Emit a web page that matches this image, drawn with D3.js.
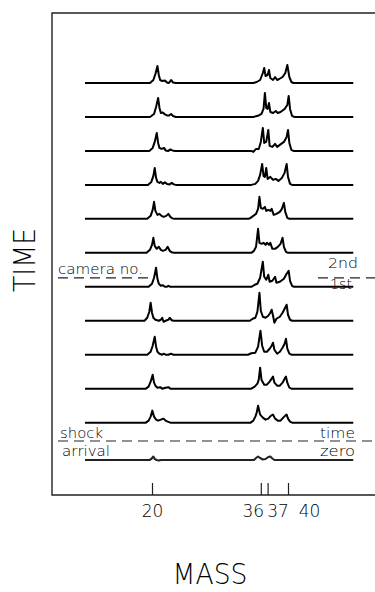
<!DOCTYPE html>
<html>
<head>
<meta charset="utf-8">
<script src="https://cdn.jsdelivr.net/npm/d3@7"></script>
<style>
  body { margin: 0; background: #fff; }
  svg { display: block; }
  text { font-family: "DejaVu Sans", "Liberation Sans", sans-serif; font-weight: 200; fill: #000; }
</style>
</head>
<body>
<div id="chart"></div>
<script>
// frame times (arb. units), index 0 = bottom trace (shock arrival)
var frameTimes = [0, 1.1, 2.1, 3.1, 4.1, 5.1, 6.1, 7.1, 8.1, 9.1, 10.1, 11.1];
var massRange = [10.15, 49.6];
var massTicks = [20, 36, 37, 40];
var shockTime = 0.56;   // shock arrival / time zero
var cameraTime = 5.36;  // switch from 1st to 2nd camera

// [mass, signal] vertices, bottom frame first
var neonTraces = [
  [[19.6,0],[19.9,1],[20.2,3.5],[20.4,1],[20.7,0],[21.0,-0.5],[21.3,0]],
  [[19.1,0],[19.5,2],[19.8,6],[20.05,12],[20.3,6],[20.6,3],[20.9,2],[21.3,3],[21.7,4],[22.0,2],[22.3,1],[22.7,0]],
  [[19.1,0],[19.5,2],[19.8,7],[20.1,14],[20.3,6],[20.5,3],[20.8,1],[21.2,1.5],[21.5,0],[22.0,1],[22.4,1.5],[22.7,0]],
  [[19.3,0],[19.8,3],[20.1,9],[20.4,18],[20.6,8],[20.8,3],[21.1,1],[21.5,0],[21.7,1],[22.0,0],[22.4,0],[22.8,1],[23.1,0]],
  [[18.9,0],[19.3,3],[19.6,9],[19.8,18],[20.0,8],[20.2,3],[20.5,1],[21.0,0],[21.3,1],[21.5,3],[21.7,-1],[22.0,0],[22.4,1],[22.6,3],[22.9,0.5],[23.2,0]],
  [[19.5,0],[20.0,3],[20.3,9],[20.6,19],[20.8,8],[21.0,3],[21.3,1],[21.6,1.5],[21.9,0],[22.2,0],[22.4,1],[22.7,0]],
  [[19.2,0],[19.7,3],[20.0,8],[20.2,15],[20.4,7],[20.7,4],[21.0,6],[21.3,3],[21.6,2],[22.0,3],[22.3,6],[22.6,2],[22.9,0.5],[23.2,0]],
  [[19.3,0],[19.8,3],[20.1,9],[20.3,17],[20.5,8],[20.8,4],[21.1,5],[21.4,3],[21.7,2],[22.1,3],[22.4,5],[22.7,2],[23.0,0.5],[23.3,0]],
  [[19.4,0],[19.9,3],[20.2,9],[20.4,17],[20.6,7],[20.8,3],[21.1,2],[21.3,3],[21.6,1],[21.9,2.5],[22.2,1],[22.6,0.5],[22.9,2],[23.2,0.5],[23.5,0]],
  [[19.6,0],[20.1,3],[20.4,9],[20.7,18],[20.9,8],[21.1,3],[21.4,2],[21.8,3],[22.0,0.5],[22.4,0],[22.7,1.5],[23.0,0.5],[23.4,0]],
  [[19.7,0],[20.3,3],[20.6,10],[20.9,19],[21.1,9],[21.3,4],[21.6,4.5],[21.9,2.5],[22.2,1.5],[22.5,1.5],[22.8,3],[23.1,1],[23.5,0]],
  [[19.7,0],[20.2,3],[20.5,9],[20.8,17],[21.0,8],[21.2,3],[21.5,2],[21.9,2.5],[22.2,0.5],[22.5,0],[22.8,3],[23.1,0.5],[23.5,0]]
];

var argonTraces = [
  [[35.0,0],[35.3,2],[35.6,3.5],[35.9,2],[36.3,0.5],[36.7,1],[37.1,3],[37.4,3.5],[37.7,1.5],[38.0,0]],
  [[34.5,0],[34.9,2],[35.2,6],[35.4,10],[35.6,17],[35.9,8],[36.3,5],[36.7,3],[37.1,4],[37.5,7],[37.8,8],[38.1,4],[38.5,2],[38.9,2],[39.3,5],[39.6,7],[39.8,8],[40.0,4],[40.3,1],[40.6,0]],
  [[34.6,0],[35.1,2],[35.5,5],[35.7,9],[35.9,21],[36.1,9],[36.5,4],[36.9,4],[37.3,7],[37.6,10],[37.8,12],[38.0,6],[38.4,3],[38.8,3],[39.2,6],[39.5,10],[39.7,12],[39.9,6],[40.2,1],[40.5,0]],
  [[34.1,0],[34.6,1.5],[35.2,2],[35.6,8],[35.95,24],[36.2,9],[36.5,3],[36.9,3],[37.3,6],[37.6,9],[37.8,12],[38.0,5],[38.4,1],[38.8,3],[39.2,7],[39.5,11],[39.7,16],[39.9,6],[40.2,1],[40.5,0]],
  [[34.4,0],[34.8,2],[35.2,3],[35.5,9],[35.8,28],[36.0,10],[36.3,4],[36.7,3],[37.1,5],[37.4,8],[37.6,11],[37.8,5],[38.0,-2],[38.3,2],[38.8,4],[39.2,8],[39.5,12],[39.8,16],[40.0,6],[40.3,1],[40.6,0]],
  [[34.6,0],[35.1,2],[35.5,3],[35.9,9],[36.3,25],[36.5,10],[36.8,7],[37.1,12],[37.3,5],[37.7,6],[38.1,10],[38.3,4],[38.8,5],[39.4,8],[39.8,13],[40.1,16],[40.3,6],[40.6,1],[40.9,0]],
  [[34.6,0],[35.0,2],[35.3,6],[35.6,24],[35.8,10],[36.1,9],[36.4,10],[36.7,8],[36.9,10],[37.2,8],[37.4,10],[37.7,4],[38.1,4],[38.5,6],[38.9,9],[39.2,15],[39.4,6],[39.7,1],[40.0,0]],
  [[34.2,0],[34.5,1],[34.9,3],[35.3,5],[35.6,10],[35.8,22],[36.0,11],[36.3,10],[36.6,12],[36.8,8],[37.1,9],[37.4,8],[37.6,10],[37.9,4],[38.3,5],[38.8,7],[39.1,10],[39.4,16],[39.6,7],[39.9,1],[40.2,0]],
  [[34.6,0],[35.2,1],[35.6,4],[35.9,10],[36.2,21],[36.4,9],[36.6,8],[36.8,17],[37.0,6],[37.4,8],[37.8,5],[38.2,6],[38.6,4],[39.1,7],[39.5,12],[39.8,21],[40.0,8],[40.3,1],[40.6,0]],
  [[34.6,0],[34.9,-1],[35.3,2],[35.7,2],[36.0,9],[36.3,23],[36.5,8],[36.8,9],[37.1,21],[37.3,5],[37.7,4],[38.1,7],[38.4,4],[38.8,6],[39.4,9],[39.8,14],[40.0,21],[40.2,8],[40.5,1],[40.8,0]],
  [[34.9,0],[35.7,1.5],[36.1,3],[36.4,8],[36.6,24],[36.8,9],[37.0,8],[37.2,14],[37.4,5],[37.8,4],[38.2,6],[38.5,4],[38.9,5],[39.5,8],[39.9,12],[40.1,21],[40.3,8],[40.6,1],[40.9,0]],
  [[34.9,0],[35.4,1],[35.9,3],[36.3,10],[36.5,15],[36.7,7],[37.0,8],[37.2,13],[37.4,5],[37.8,3],[38.1,6],[38.4,3],[38.7,4],[39.2,6],[39.6,10],[39.9,18],[40.2,6],[40.5,1],[40.8,0]]
];

var svgWidth = 375;
var svgHeight = 592;
var chartMargin = { top: 13, left: 52 };
var chartWidth = svgWidth - chartMargin.left;
var chartHeight = 482;

var svg = d3.select("#chart")
    .append("svg")
    .attr("width", svgWidth)
    .attr("height", svgHeight);

var chartGroup = svg.append("g")
    .attr("transform", `translate(${chartMargin.left}, ${chartMargin.top})`);

var xScale = d3.scaleLinear().domain([20, 40]).range([100, 236]);
var yTime = d3.scaleLinear().domain([0, 11.1]).range([447, 70]);
var ySignal = d3.scaleLinear().domain([0, 30]).range([0, 30]);

// frame: left, top and bottom edges (right side runs off the picture)
chartGroup.append("path")
    .attr("d", `M${chartWidth},0H0V${chartHeight}H${chartWidth}`)
    .attr("fill", "none")
    .attr("stroke", "#222")
    .attr("stroke-width", 1.4);

// traces
frameTimes.forEach(function(t, i) {
    var pts = [[massRange[0], 0]].concat(neonTraces[i], argonTraces[i], [[massRange[1], 0]]);
    var line = d3.line()
        .x(d => xScale(d[0]))
        .y(d => yTime(t) - ySignal(d[1]));
    chartGroup.append("path")
        .datum(pts)
        .attr("d", line)
        .attr("fill", "none")
        .attr("stroke", i == 0 ? "#222" : "#000")
        .attr("stroke-width", 2)
        .attr("stroke-linejoin", "round");
});

// dashed markers
var yShock = yTime(shockTime);
var yCam = yTime(cameraTime);
chartGroup.append("line")
    .attr("x1", 6).attr("x2", chartWidth)
    .attr("y1", yShock).attr("y2", yShock)
    .attr("stroke", "#222").attr("stroke-width", 1.2)
    .attr("stroke-dasharray", "10,6");
[[6, 96], [266, chartWidth]].forEach(function(seg) {
    chartGroup.append("line")
        .attr("x1", seg[0]).attr("x2", seg[1])
        .attr("y1", yCam).attr("y2", yCam)
        .attr("stroke", "#222").attr("stroke-width", 1.2)
        .attr("stroke-dasharray", "10,6");
});

function note(txt, x, y, len) {
    chartGroup.append("text")
        .attr("x", x).attr("y", y)
        .attr("font-size", 14)
        .attr("textLength", len)
        .attr("lengthAdjust", "spacingAndGlyphs")
        .text(txt);
}
note("camera no.", 6, yCam - 4, 85);
note("2nd", 276, yCam - 10, 30);
note("1st", 278, yCam + 11, 22);
note("shock", 8, yShock - 3, 43);
note("time", 268, yShock - 3, 35);
note("arrival", 10, yShock + 15, 48);
note("zero", 268, yShock + 15, 35);

// mass axis, ticks pointing up into the frame
var labelShift = { 20: 0, 36: -8, 37: 10, 40: 21 };
var bottomAxis = d3.axisBottom(xScale)
    .tickValues(massTicks)
    .tickSize(-12)
    .tickPadding(10)
    .tickFormat(d3.format("d"));

var xAxis = chartGroup.append("g")
    .attr("transform", `translate(0, ${chartHeight})`)
    .call(bottomAxis);
xAxis.select(".domain").remove();
xAxis.selectAll(".tick line").attr("stroke", "#222").attr("stroke-width", 1.2);
xAxis.selectAll(".tick text")
    .attr("dx", d => labelShift[d])
    .attr("font-size", 17)
    .attr("font-family", "DejaVu Sans, sans-serif")
    .attr("fill", "#000");

// axis titles
svg.append("text")
    .attr("x", 210)
    .attr("y", 584)
    .attr("text-anchor", "middle")
    .attr("font-size", 29)
    .attr("textLength", 75)
    .attr("lengthAdjust", "spacingAndGlyphs")
    .text("MASS");

svg.append("text")
    .attr("transform", "translate(35, 260) rotate(-90)")
    .attr("text-anchor", "middle")
    .attr("font-size", 31)
    .attr("textLength", 64)
    .attr("lengthAdjust", "spacingAndGlyphs")
    .text("TIME");
</script>
</body>
</html>
